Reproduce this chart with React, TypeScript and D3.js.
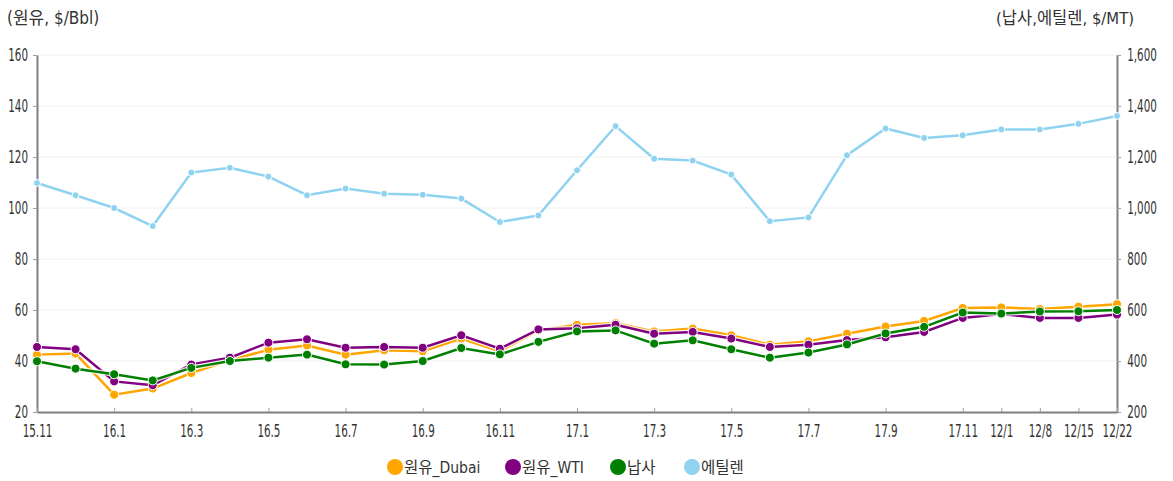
import React, { useEffect, useRef } from 'react';
import * as d3 from 'd3';

const categories = [
  '15.11', '15.12',
  '16.1', '16.2', '16.3', '16.4', '16.5', '16.6', '16.7', '16.8', '16.9', '16.10', '16.11', '16.12',
  '17.1', '17.2', '17.3', '17.4', '17.5', '17.6', '17.7', '17.8', '17.9', '17.10', '17.11',
  '12/1', '12/8', '12/15', '12/22',
];

const xTickLabels = [
  '15.11', '16.1', '16.3', '16.5', '16.7', '16.9', '16.11',
  '17.1', '17.3', '17.5', '17.7', '17.9', '17.11', '12/1', '12/8', '12/15', '12/22',
];

// crude, $/Bbl (left axis)
const dubai = [42.5, 42.9, 26.8, 29.2, 35.3, 40.3, 44.4, 46.1, 42.5, 44.2, 43.8, 48.8, 43.8, 52.0, 54.2,
  54.8, 51.6, 52.7, 50.1, 46.4, 47.7, 50.7, 53.5, 55.7, 60.8, 61.0, 60.4, 61.3, 62.3];
const wti = [45.5, 44.6, 32.0, 30.5, 38.6, 41.3, 47.2, 48.5, 45.2, 45.5, 45.2, 50.1, 44.8, 52.4, 52.8,
  54.2, 50.7, 51.4, 48.8, 45.5, 46.4, 48.2, 49.3, 51.4, 56.9, 58.4, 56.9, 56.9, 58.2];
// naphtha & ethylene, $/MT (right axis)
const naphtha = [399, 370, 348, 324, 373, 400, 413, 425, 387, 386, 400, 451, 426, 475, 516,
  520, 468, 481, 446, 413, 433, 465, 508, 534, 590, 586, 594, 595, 600];
const ethylene = [1098, 1050, 1000, 929, 1139, 1158, 1123, 1050, 1076, 1056, 1052, 1037, 945, 971, 1148,
  1321, 1193, 1186, 1131, 948, 963, 1207, 1312, 1275, 1285, 1308, 1308, 1330, 1361];

const leftTicks = [20, 40, 60, 80, 100, 120, 140, 160];
const rightTicks = [200, 400, 600, 800, 1000, 1200, 1400, 1600];

const series = [
  { name: '에틸렌', values: ethylene, axis: 'right', color: '#8fd3f0', legendOrder: 3 },
  { name: '원유_Dubai', values: dubai, axis: 'left', color: '#ffa500', legendOrder: 0 },
  { name: '원유_WTI', values: wti, axis: 'left', color: '#800080', legendOrder: 1 },
  { name: '납사', values: naphtha, axis: 'right', color: '#008000', legendOrder: 2 },
];

const FONT = '"DejaVu Sans Condensed", "Noto Sans CJK KR", sans-serif';
const TICK_SCALE = 0.64; // the tick labels are a tall, narrow face

const App = () => {
  const ref = useRef<SVGSVGElement>(null);

  useEffect(() => {
    const svg = d3.select(ref.current);
    svg.selectAll('*').remove();

    const left = 37;
    const right = 1117;
    const top = 55;
    const bottom = 412;

    const x = d3.scalePoint<string>().domain(categories).range([left, right]);
    const yL = d3.scaleLinear().domain([20, 160]).range([bottom, top]);
    const yR = d3.scaleLinear().domain([200, 1600]).range([bottom, top]);

    // grid
    svg.append('g')
      .selectAll('line')
      .data(leftTicks.slice(1))
      .enter()
      .append('line')
      .attr('x1', left)
      .attr('x2', right)
      .attr('y1', (d) => yL(d))
      .attr('y2', (d) => yL(d))
      .attr('stroke', '#f0f0f0')
      .attr('stroke-width', 1);

    // axes
    const styleAxis = (g: any) => {
      g.select('.domain').attr('stroke', '#808080').attr('stroke-width', 2);
      g.selectAll('.tick line').attr('stroke', '#a0a0a0');
      g.selectAll('text')
        .attr('fill', '#333')
        .attr('transform', `scale(${TICK_SCALE},1)`)
        .style('font-family', FONT)
        .style('font-size', '18px');
    };

    svg.append('g')
      .attr('transform', `translate(${left},0)`)
      .call(d3.axisLeft(yL).tickValues(leftTicks).tickSize(4).tickSizeOuter(0).tickPadding(10))
      .call(styleAxis);

    svg.append('g')
      .attr('transform', `translate(${right},0)`)
      .call(d3.axisRight(yR).tickValues(rightTicks).tickSize(4).tickSizeOuter(0).tickPadding(12)
        .tickFormat(d3.format(',')))
      .call(styleAxis);

    svg.append('g')
      .attr('transform', `translate(0,${bottom})`)
      .call(d3.axisBottom(x).tickValues(xTickLabels).tickSize(-4).tickSizeOuter(0).tickPadding(12))
      .call(styleAxis);

    // lines
    series.forEach((s) => {
      const y = s.axis === 'left' ? yL : yR;
      const line = d3.line<number>()
        .x((_, i) => x(categories[i]) as number)
        .y((d) => y(d));
      const g = svg.append('g');
      g.append('path')
        .datum(s.values)
        .attr('fill', 'none')
        .attr('stroke', '#fff')
        .attr('stroke-width', 5)
        .attr('stroke-opacity', 0.8)
        .attr('d', line);
      g.append('path')
        .datum(s.values)
        .attr('fill', 'none')
        .attr('stroke', s.color)
        .attr('stroke-width', 2.5)
        .attr('d', line);
      g.selectAll('circle')
        .data(s.values)
        .enter()
        .append('circle')
        .attr('cx', (_, i) => x(categories[i]) as number)
        .attr('cy', (d) => y(d))
        .attr('r', s.name === '에틸렌' ? 3.5 : 4.5)
        .attr('fill', s.color)
        .attr('stroke', '#fff')
        .attr('stroke-width', 1);
    });

    // axis titles
    svg.append('text')
      .attr('x', 7)
      .attr('y', 24)
      .attr('fill', '#333')
      .style('font-family', FONT)
      .style('font-size', '17px')
      .text('(원유, $/Bbl)');

    svg.append('text')
      .attr('x', 1134)
      .attr('y', 24)
      .attr('text-anchor', 'end')
      .attr('fill', '#333')
      .style('font-family', FONT)
      .style('font-size', '16.5px')
      .text('(납사,에틸렌, $/MT)');

    // legend
    const legendX = [395, 513, 618, 692];
    const legend = svg.append('g');
    [...series].sort((a, b) => a.legendOrder - b.legendOrder).forEach((s, i) => {
      legend.append('circle')
        .attr('cx', legendX[i])
        .attr('cy', 467)
        .attr('r', 8)
        .attr('fill', s.color);
      legend.append('text')
        .attr('x', legendX[i] + 9)
        .attr('y', 473)
        .attr('fill', '#333')
        .style('font-family', FONT)
        .style('font-size', '15.5px')
        .text(s.name);
    });
  }, []);

  return (
    <svg
      ref={ref}
      width={1173}
      height={481}
      style={{ position: 'absolute', left: 0, top: 0, background: '#fff' }}
    />
  );
};

export default App;
